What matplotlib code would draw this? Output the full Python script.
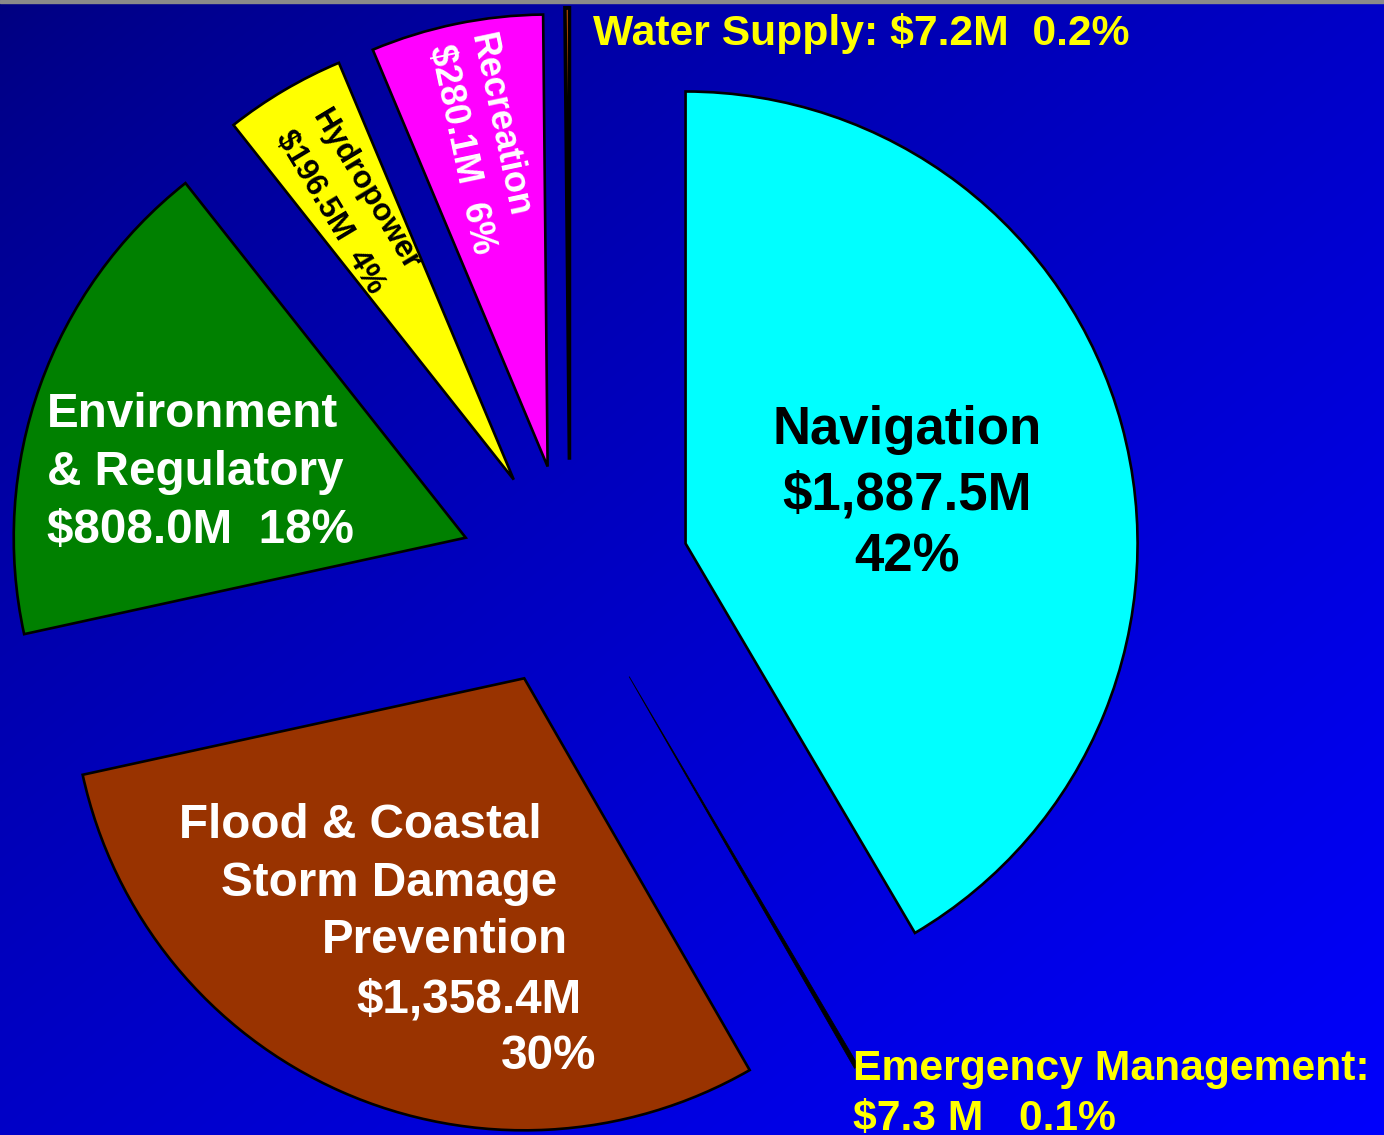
import numpy as np
import matplotlib
matplotlib.use('Agg')
import matplotlib.pyplot as plt

categories = ["Navigation", "Emergency Management", "Flood & Coastal Storm Damage Prevention",
              "Environment & Regulatory", "Hydropower", "Recreation", "Water Supply"]
values = [1887.5, 7.3, 1358.4, 808.0, 196.5, 280.1, 7.2]
amount_labels = ["$1,887.5M", "$7.3 M", "$1,358.4M", "$808.0M", "$196.5M", "$280.1M", "$7.2M"]
percent_labels = ["42%", "0.1%", "30%", "18%", "4%", "6%", "0.2%"]
colors = ['#00FFFF', '#000000', '#993300', '#008000', '#FFFF00', '#FF00FF', '#FF6600']
explode_frac = [0.265, 0.26, 0.25, 0.245, 0.245, 0.245, 0.255]

W, H = 1384, 1135
R = 452
fig = plt.figure(figsize=(W / 100, H / 100), dpi=100)
ax = fig.add_axes([0, 0, 1, 1])

# background gradient (dark navy top-left -> bright blue bottom-right)
nx, ny = 400, 330
xx, yy = np.meshgrid(np.linspace(0, 1, nx), np.linspace(0, 1, ny))
t = (xx + yy) / 2
img = np.zeros((ny, nx, 3))
img[..., 2] = (128 + 124 * t ** 0.8) / 255
ax.imshow(img, extent=(0, W, 0, H), origin='upper', zorder=0, aspect='auto',
          interpolation='bilinear')

wedges, _ = ax.pie(values, explode=[e * R for e in explode_frac], colors=colors,
                   startangle=90, counterclock=False, center=(570, H - 575), radius=R,
                   wedgeprops=dict(edgecolor='black', linewidth=1.9))
wedges[1].set_linewidth(0.6)
wedges[6].set_linewidth(2.6)
ax.set_xlim(0, W)
ax.set_ylim(0, H)
ax.axis('off')
ax.axhspan(H - 3, H, color='#8a8a8a', zorder=5)

FONT = 'Liberation Sans'


def T(x, y_img, s, **kw):
    ax.text(x, H - y_img, s, fontfamily=FONT, fontweight='bold', zorder=6, **kw)


# Navigation
T(907, 444, categories[0], fontsize=38, color='black', ha='center', va='baseline')
T(907, 509, amount_labels[0], fontsize=38, color='black', ha='center', va='baseline')
T(907, 572, percent_labels[0], fontsize=38, color='black', ha='center', va='baseline')

# Environment & Regulatory
T(47, 427, "Environment", fontsize=34.3, color='white', ha='left', va='baseline')
T(47, 485, "& Regulatory", fontsize=34.3, color='white', ha='left', va='baseline')
T(47, 543, f"{amount_labels[3]}  {percent_labels[3]}", fontsize=34.3, color='white',
  ha='left', va='baseline')

# Flood & Coastal Storm Damage Prevention
flood_lines = ["Flood & Coastal", "Storm Damage", "Prevention", amount_labels[2], percent_labels[2]]
flood_right = [542, 557, 568, 582, 596]
flood_base = [838, 896, 953, 1012, 1069]
for s, xr, yb in zip(flood_lines, flood_right, flood_base):
    T(xr, yb, s, fontsize=34.3, color='white', ha='right', va='baseline')

# Hydropower (rotated)
T(366, 190, categories[4], fontsize=22.5, color='black', ha='center', va='center',
  rotation=-59, rotation_mode='anchor')
T(330, 212, f"{amount_labels[4]}  {percent_labels[4]}", fontsize=22.5, color='black',
  ha='center', va='center', rotation=-59, rotation_mode='anchor')

# Recreation (rotated)
T(499, 125, categories[5], fontsize=26, color='white', ha='center', va='center',
  rotation=-78, rotation_mode='anchor')
T(461, 150, f"{amount_labels[5]}  {percent_labels[5]}", fontsize=26, color='white',
  ha='center', va='center', rotation=-78, rotation_mode='anchor')

# Water Supply
T(593, 45, f"{categories[6]}: {amount_labels[6]}  {percent_labels[6]}", fontsize=30.7,
  color='#FFFF00', ha='left', va='baseline')

# Emergency Management
T(853, 1080, f"{categories[1]}:", fontsize=30.7, color='#FFFF00', ha='left', va='baseline')
T(853, 1130, f"{amount_labels[1]}   {percent_labels[1]}", fontsize=30.7, color='#FFFF00',
  ha='left', va='baseline')

fig.savefig('out.png', dpi=100)
